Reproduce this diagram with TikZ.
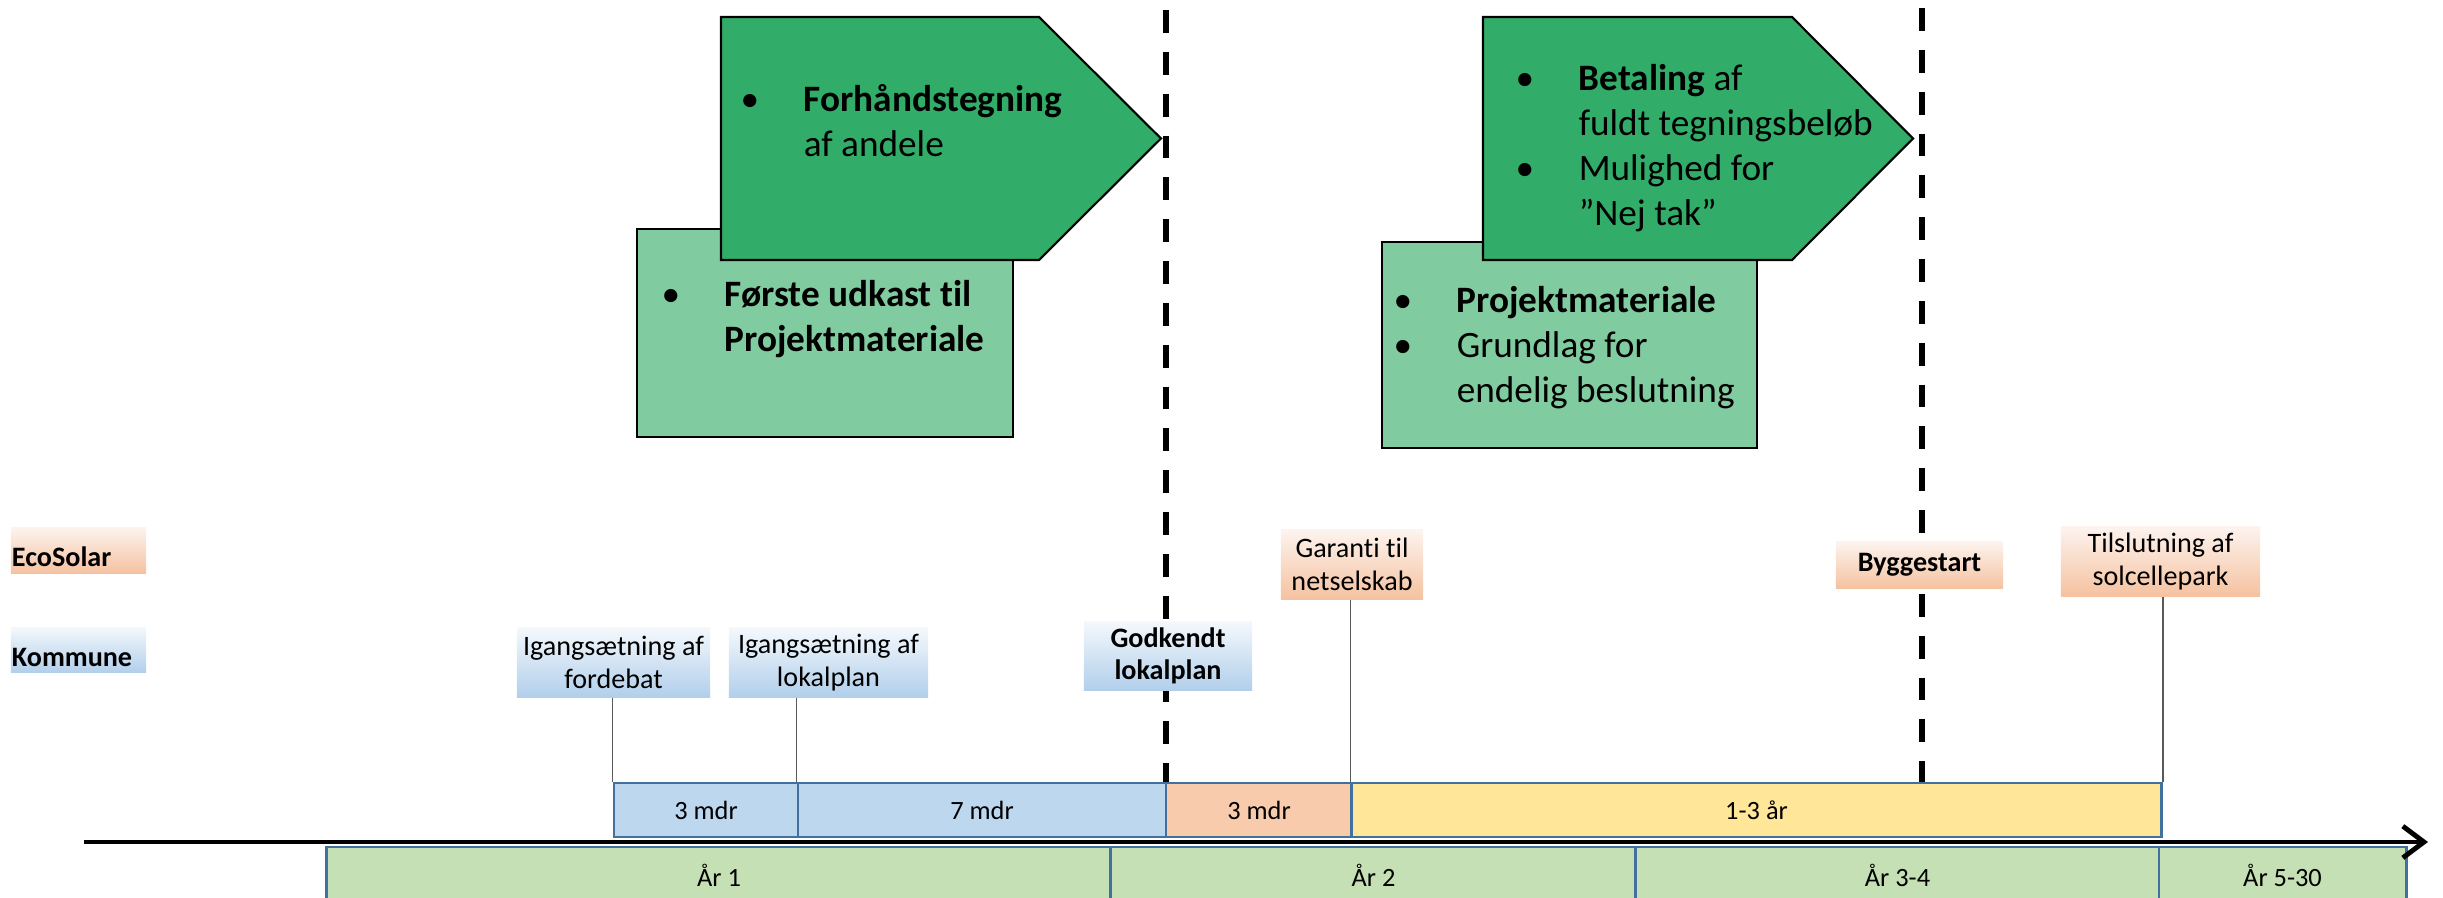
\documentclass[tikz,border=0pt]{standalone}
\usepackage{fontspec}
\setmainfont{Carlito}[Ligatures=NoCommon]
\usepackage{tikz}
\usetikzlibrary{positioning}
\usetikzlibrary{calc}
\usetikzlibrary{arrows.meta}
\definecolor{offergrn}{HTML}{32AD69}
\definecolor{draftgrn}{HTML}{80CCA0}
\definecolor{barblue}{HTML}{BDD7EE}
\definecolor{barorange}{HTML}{F8CBAD}
\definecolor{baryellow}{HTML}{FFE699}
\definecolor{yeargrn}{HTML}{C5E0B4}
\definecolor{barline}{HTML}{41719C}
\definecolor{komtop}{HTML}{F4F8FC}
\definecolor{kombot}{HTML}{B1CFEB}
\definecolor{ecotop}{HTML}{FDF3EE}
\definecolor{ecobot}{HTML}{F5C2A0}
\definecolor{stemgray}{HTML}{595959}
\tikzset{>=latex}
\tikzstyle{kom}=[rectangle,inner sep=0pt,top color=komtop,bottom color=kombot,align=center,font=\fontsize{8}{9.2}\selectfont]
\tikzstyle{eco}=[kom,top color=ecotop,bottom color=ecobot]
\tikzstyle{actor}=[text width=1.33cm,minimum width=1.35cm,align=left,text height=0.39cm,text depth=0.065cm]
\tikzstyle{durbar}=[rectangle,draw=barline,line width=0.8pt,inner sep=0pt,minimum height=0.54cm,font=\fontsize{7.5}{9}\selectfont]
\tikzstyle{yearbar}=[durbar,fill=yeargrn,minimum height=0.56cm]
\tikzstyle{decision}=[line width=1.7pt,dash pattern=on 6.5pt off 5.4pt]
\tikzstyle{stem}=[stemgray,line width=0.5pt]
\tikzstyle{axis}=[line width=1.4pt,-{Straight Barb[length=6pt,width=9pt]}]
\tikzstyle{offer}=[draw=black,fill=offergrn,line width=0.6pt]
\tikzstyle{draft}=[draw=black,fill=draftgrn,line width=0.6pt]
\tikzstyle{phasetxt}=[anchor=base west,align=left,inner sep=0pt,font=\fontsize{10.6}{12.8}\selectfont]
\newcommand{\blt}{\makebox[0.55cm][l]{\kern-0.08cm\textbullet}}
\newcommand{\bnd}{\hspace*{0.55cm}}

\begin{document}
\begin{tikzpicture}[x=0.01cm,y=-0.01cm]
\useasboundingbox (0,0) rectangle (2443,898);
\clip (0,0) rectangle (2443,898);

% Phase 1 (base = last line)
\filldraw[draft] (637,229) rectangle (1013,437);
\filldraw[offer] (721,17) -- (1039,17) -- (1161,138.5) -- (1039,260) -- (721,260) -- cycle;
\node[phasetxt] (forh) at (748,157) {\blt\textbf{Forhåndstegning}\\\bnd af andele};
\node[phasetxt] (udkast) at (669,352) {\blt\textbf{Første udkast til}\\\bnd\textbf{Projektmateriale}};

% Phase 2
\filldraw[draft] (1382,242) rectangle (1757,448);
\filldraw[offer] (1483,17) -- (1792,17) -- (1913,138.5) -- (1792,260) -- (1483,260) -- cycle;
\node[phasetxt] (betaling) at (1523,226) {\blt\textbf{Betaling} af\\\bnd fuldt tegningsbeløb\\\blt Mulighed for\\\bnd ”Nej tak”};
\node[phasetxt] (projekt) at (1401,403) {\blt\textbf{Projektmateriale}\\\blt Grundlag for\\\bnd endelig beslutning};

% Duration bars
\node[durbar,fill=barblue,minimum width=1.84cm] (b1) at (706,810) {3 mdr};
\node[durbar,fill=barblue,minimum width=3.68cm] (b2) at (982,810) {7 mdr};
\node[durbar,fill=barorange,minimum width=1.86cm] (b3) at (1259,810) {3 mdr};
\node[durbar,fill=baryellow,minimum width=8.09cm] (b4) at (1756.5,810) {1-3 år};

% Decision lines (dashed)
\coordinate (d1) at (1166,10);
\coordinate (d2) at (1922,8);
\draw[decision] (d1) -- (d1 |- b3.north);
\draw[decision] (d2) -- (d2 |- b4.north);

% Actors
\node[eco,actor] (ecosolar) at (78.5,550.5) {\textbf{EcoSolar}};
\node[kom,actor] (kommune) at (78.5,650) {\textbf{Kommune}};

% Milestones
\node[kom,minimum width=1.93cm,minimum height=0.69cm] (fordebat) at (613.5,662.5) {Igangsætning af\\fordebat};
\node[kom,minimum width=1.99cm,minimum height=0.69cm] (lokalplan) at (828.5,662.5) {Igangsætning af\\lokalplan};
\node[kom,minimum width=1.68cm,minimum height=0.68cm,font=\fontsize{8}{9.2}\selectfont\bfseries] (godkendt) at (1168,656) {Godkendt\\lokalplan};
\node[eco,minimum width=1.42cm,minimum height=0.69cm] (garanti) at (1352,564.5) {Garanti til\\netselskab};
\node[eco,minimum width=1.67cm,minimum height=0.46cm] (byggestart) at (1919.5,565) {\textbf{Byggestart}};
\node[eco,minimum width=1.99cm,minimum height=0.69cm] (tilslutning) at (2160.5,561.5) {Tilslutning af\\solcellepark};

\draw[stem] (fordebat.south -| b1.north west) -- (b1.north west);
\draw[stem] (lokalplan.south -| b2.north west) -- (b2.north west);
\draw[stem] (garanti.south -| b4.north west) -- (b4.north west);
\draw[stem] (tilslutning.south -| b4.north east) -- (b4.north east);

% Years
\node[yearbar,minimum width=7.84cm] (y1) at (719,875) {År 1};
\node[yearbar,minimum width=5.25cm] (y2) at (1373.5,875) {År 2};
\node[yearbar,minimum width=5.23cm] (y3) at (1897.5,875) {År 3-4};
\node[yearbar,minimum width=2.47cm] (y4) at (2282.5,875) {År 5-30};

% Time axis
\coordinate (ax0) at (84,842);
\coordinate (ax1) at (2428,842);
\draw[axis] (ax0) -- (ax1);

\end{tikzpicture}
\end{document}
